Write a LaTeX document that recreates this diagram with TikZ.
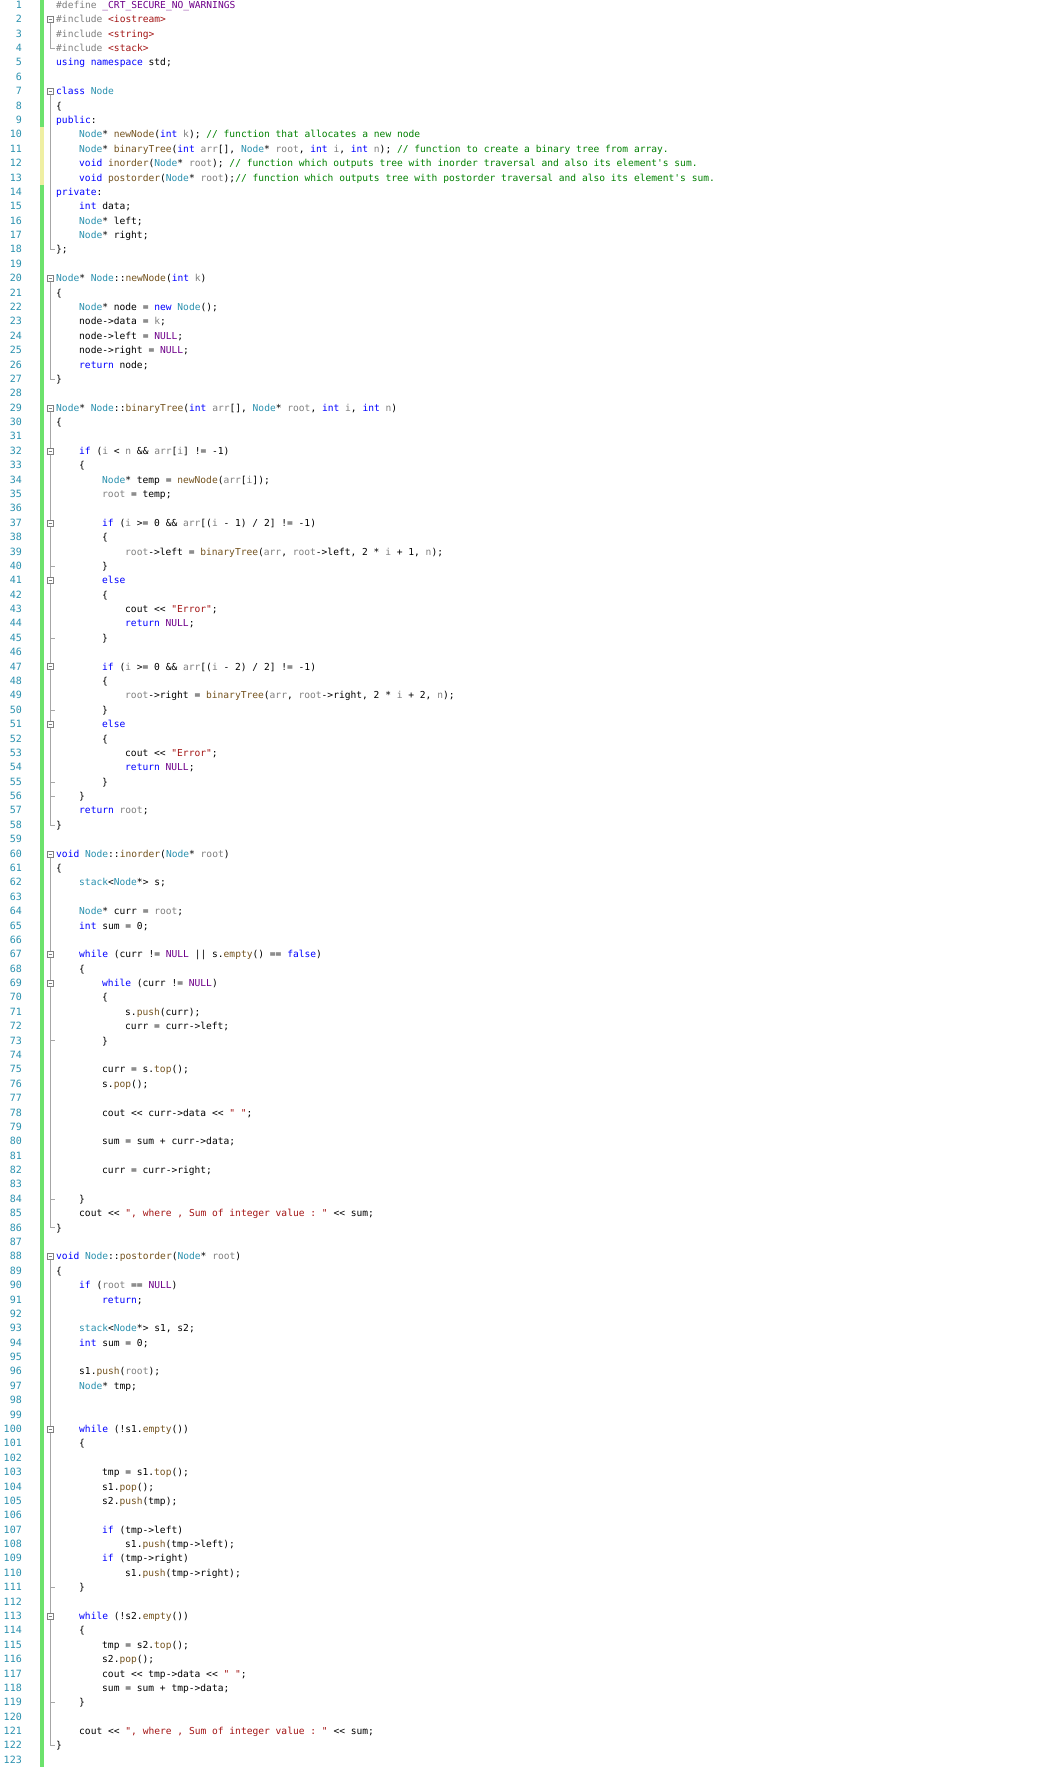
\documentclass[tikz,border=0pt]{standalone}
\usepackage{fontspec}
\setmonofont{DejaVu Sans Mono}
\definecolor{kwc}{RGB}{0,0,255}
\definecolor{tyc}{RGB}{43,145,175}
\definecolor{stc}{RGB}{163,21,21}
\definecolor{cmc}{RGB}{0,128,0}
\definecolor{fnc}{RGB}{116,83,31}
\definecolor{mcc}{RGB}{111,0,138}
\definecolor{vac}{RGB}{128,128,128}
\definecolor{ppc}{RGB}{128,128,128}
\definecolor{numc}{RGB}{43,145,175}
\definecolor{barg}{RGB}{108,226,108}
\definecolor{bary}{RGB}{239,239,162}
\newcommand\kw[1]{\textcolor{kwc}{#1}}
\newcommand\ty[1]{\textcolor{tyc}{#1}}
\newcommand\st[1]{\textcolor{stc}{#1}}
\newcommand\cm[1]{\textcolor{cmc}{#1}}
\newcommand\fn[1]{\textcolor{fnc}{#1}}
\newcommand\mc[1]{\textcolor{mcc}{#1}}
\newcommand\va[1]{\textcolor{vac}{#1}}
\newcommand\pp[1]{\textcolor{ppc}{#1}}
\newcommand\cl[3]{\node[codeln] (c#1) at ({56+23*#2},{1767-(5+(#1-1)*14.385)-3.4}) {#3};}
\newcommand\foldl[2]{%
  \coordinate (s#1) at (50,{1767-(5+(#1-1)*14.385)});
  \coordinate (e#1) at (50,{1767-(5+(#2-1)*14.385)});
  \draw[foldline] (s#1) -- (e#1) -- ++(5,0);}
\newcommand\foldb[1]{\node[foldbox] (f#1) at (s#1) {};}
\tikzset{
  codeln/.style={anchor=base west,inner sep=0pt,font=\ttfamily\fontsize{9.6}{10}\selectfont},
  numln/.style={anchor=base east,inner sep=0pt,text=numc,font=\ttfamily\fontsize{10}{10}\selectfont},
  foldbox/.style={draw=gray,fill=white,minimum size=6pt,inner sep=0pt,path picture={\draw[gray] ([xshift=1.5pt]path picture bounding box.west) -- ([xshift=-1.5pt]path picture bounding box.east);}},
  foldline/.style={draw=gray!70,line width=0.5pt}
}
\begin{document}
\begin{tikzpicture}[x=1pt,y=1pt]
\useasboundingbox (0,0) rectangle (1053,1767);
\fill[white] (0,0) rectangle (1053,1767);
\fill[barg] (40,0) rectangle (44,1767);
\fill[bary] (40,{1767-(5+8.5*14.385)}) rectangle (44,{1767-(5+12.5*14.385)});
\foreach \n in {1,...,123} {\node[numln] (n\n) at (22,{1767-(5+(\n-1)*14.385)-3.4}) {\n};}
\foldl{2}{4}\foldl{7}{18}\foldl{20}{27}\foldl{29}{58}\foldl{32}{56}\foldl{37}{40}\foldl{41}{45}
\foldl{47}{50}\foldl{51}{55}\foldl{60}{86}\foldl{67}{84}\foldl{69}{73}\foldl{88}{122}\foldl{100}{111}\foldl{113}{119}
\foldb{2}\foldb{7}\foldb{20}\foldb{29}\foldb{32}\foldb{37}\foldb{41}
\foldb{47}\foldb{51}\foldb{60}\foldb{67}\foldb{69}\foldb{88}\foldb{100}\foldb{113}
\cl{1}{0}{\pp{\#define} \mc{\_CRT\_SECURE\_NO\_WARNINGS}}
\cl{2}{0}{\pp{\#include} \st{<iostream>}}
\cl{3}{0}{\pp{\#include} \st{<string>}}
\cl{4}{0}{\pp{\#include} \st{<stack>}}
\cl{5}{0}{\kw{using namespace} std;}
\cl{7}{0}{\kw{class} \ty{Node}}
\cl{8}{0}{\{}
\cl{9}{0}{\kw{public}:}
\cl{10}{1}{\ty{Node}* \fn{newNode}(\kw{int} \va{k}); \cm{// function that allocates a new node}}
\cl{11}{1}{\ty{Node}* \fn{binaryTree}(\kw{int} \va{arr}[], \ty{Node}* \va{root}, \kw{int} \va{i}, \kw{int} \va{n}); \cm{// function to create a binary tree from array.}}
\cl{12}{1}{\kw{void} \fn{inorder}(\ty{Node}* \va{root}); \cm{// function which outputs tree with inorder traversal and also its element's sum.}}
\cl{13}{1}{\kw{void} \fn{postorder}(\ty{Node}* \va{root});\cm{// function which outputs tree with postorder traversal and also its element's sum.}}
\cl{14}{0}{\kw{private}:}
\cl{15}{1}{\kw{int} data;}
\cl{16}{1}{\ty{Node}* left;}
\cl{17}{1}{\ty{Node}* right;}
\cl{18}{0}{\};}
\cl{20}{0}{\ty{Node}* \ty{Node}::\fn{newNode}(\kw{int} \va{k})}
\cl{21}{0}{\{}
\cl{22}{1}{\ty{Node}* node = \kw{new} \ty{Node}();}
\cl{23}{1}{node->data = \va{k};}
\cl{24}{1}{node->left = \mc{NULL};}
\cl{25}{1}{node->right = \mc{NULL};}
\cl{26}{1}{\kw{return} node;}
\cl{27}{0}{\}}
\cl{29}{0}{\ty{Node}* \ty{Node}::\fn{binaryTree}(\kw{int} \va{arr}[], \ty{Node}* \va{root}, \kw{int} \va{i}, \kw{int} \va{n})}
\cl{30}{0}{\{}
\cl{32}{1}{\kw{if} (\va{i} < \va{n} \&\& \va{arr}[\va{i}] != -1)}
\cl{33}{1}{\{}
\cl{34}{2}{\ty{Node}* temp = \fn{newNode}(\va{arr}[\va{i}]);}
\cl{35}{2}{\va{root} = temp;}
\cl{37}{2}{\kw{if} (\va{i} >= 0 \&\& \va{arr}[(\va{i} - 1) / 2] != -1)}
\cl{38}{2}{\{}
\cl{39}{3}{\va{root}->left = \fn{binaryTree}(\va{arr}, \va{root}->left, 2 * \va{i} + 1, \va{n});}
\cl{40}{2}{\}}
\cl{41}{2}{\kw{else}}
\cl{42}{2}{\{}
\cl{43}{3}{cout << \st{"Error"};}
\cl{44}{3}{\kw{return} \mc{NULL};}
\cl{45}{2}{\}}
\cl{47}{2}{\kw{if} (\va{i} >= 0 \&\& \va{arr}[(\va{i} - 2) / 2] != -1)}
\cl{48}{2}{\{}
\cl{49}{3}{\va{root}->right = \fn{binaryTree}(\va{arr}, \va{root}->right, 2 * \va{i} + 2, \va{n});}
\cl{50}{2}{\}}
\cl{51}{2}{\kw{else}}
\cl{52}{2}{\{}
\cl{53}{3}{cout << \st{"Error"};}
\cl{54}{3}{\kw{return} \mc{NULL};}
\cl{55}{2}{\}}
\cl{56}{1}{\}}
\cl{57}{1}{\kw{return} \va{root};}
\cl{58}{0}{\}}
\cl{60}{0}{\kw{void} \ty{Node}::\fn{inorder}(\ty{Node}* \va{root})}
\cl{61}{0}{\{}
\cl{62}{1}{\ty{stack}<\ty{Node}*> s;}
\cl{64}{1}{\ty{Node}* curr = \va{root};}
\cl{65}{1}{\kw{int} sum = 0;}
\cl{67}{1}{\kw{while} (curr != \mc{NULL} || s.\fn{empty}() == \kw{false})}
\cl{68}{1}{\{}
\cl{69}{2}{\kw{while} (curr != \mc{NULL})}
\cl{70}{2}{\{}
\cl{71}{3}{s.\fn{push}(curr);}
\cl{72}{3}{curr = curr->left;}
\cl{73}{2}{\}}
\cl{75}{2}{curr = s.\fn{top}();}
\cl{76}{2}{s.\fn{pop}();}
\cl{78}{2}{cout << curr->data << \st{" "};}
\cl{80}{2}{sum = sum + curr->data;}
\cl{82}{2}{curr = curr->right;}
\cl{84}{1}{\}}
\cl{85}{1}{cout << \st{", where , Sum of integer value : "} << sum;}
\cl{86}{0}{\}}
\cl{88}{0}{\kw{void} \ty{Node}::\fn{postorder}(\ty{Node}* \va{root})}
\cl{89}{0}{\{}
\cl{90}{1}{\kw{if} (\va{root} == \mc{NULL})}
\cl{91}{2}{\kw{return};}
\cl{93}{1}{\ty{stack}<\ty{Node}*> s1, s2;}
\cl{94}{1}{\kw{int} sum = 0;}
\cl{96}{1}{s1.\fn{push}(\va{root});}
\cl{97}{1}{\ty{Node}* tmp;}
\cl{100}{1}{\kw{while} (!s1.\fn{empty}())}
\cl{101}{1}{\{}
\cl{103}{2}{tmp = s1.\fn{top}();}
\cl{104}{2}{s1.\fn{pop}();}
\cl{105}{2}{s2.\fn{push}(tmp);}
\cl{107}{2}{\kw{if} (tmp->left)}
\cl{108}{3}{s1.\fn{push}(tmp->left);}
\cl{109}{2}{\kw{if} (tmp->right)}
\cl{110}{3}{s1.\fn{push}(tmp->right);}
\cl{111}{1}{\}}
\cl{113}{1}{\kw{while} (!s2.\fn{empty}())}
\cl{114}{1}{\{}
\cl{115}{2}{tmp = s2.\fn{top}();}
\cl{116}{2}{s2.\fn{pop}();}
\cl{117}{2}{cout << tmp->data << \st{" "};}
\cl{118}{2}{sum = sum + tmp->data;}
\cl{119}{1}{\}}
\cl{121}{1}{cout << \st{", where , Sum of integer value : "} << sum;}
\cl{122}{0}{\}}
\end{tikzpicture}
\end{document}
